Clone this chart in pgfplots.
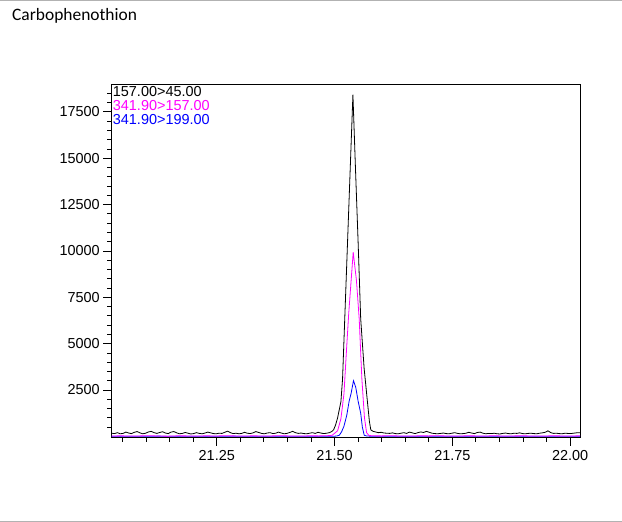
\documentclass[border=0pt]{standalone}
\usepackage{pgfplots}
\pgfplotsset{compat=1.18}
\usepackage{fontspec}
\setmainfont{Liberation Sans}
\newfontfamily\titlefont{Carlito}
\definecolor{mag}{RGB}{255,0,255}
\definecolor{blu}{RGB}{0,0,255}
\begin{document}
\begin{tikzpicture}
\path[use as bounding box] (0,0) rectangle (622bp,522bp);
\draw[color=black!30, line width=1.2bp] (0,521.2bp) -- (622bp,521.2bp);
\draw[color=black!30, line width=1.2bp] (0,0.8bp) -- (622bp,0.8bp);
\node[anchor=base west, inner sep=0] at (12bp,501.5bp) {\titlefont\fontsize{17.5}{20}\selectfont Carbophenothion};
\begin{axis}[
 at={(111.7bp,84.7bp)}, anchor=south west, scale only axis,
 width=468.3bp, height=353.3bp,
 xmin=21.027, xmax=22.021, ymin=-50, ymax=19000,
 xtick={21.25,21.5,21.75,22}, ytick={2500,5000,...,17500},
 minor xtick={21.05,21.10,...,22.00}, minor ytick={500,1000,...,18500},
 tick align=outside, tick pos=left,
 major tick length=8.5bp, minor tick length=4.5bp,
 scaled ticks=false,
 xticklabel style={/pgf/number format/fixed, /pgf/number format/fixed zerofill, /pgf/number format/precision=2, yshift=-1.5bp},
 yticklabel style={/pgf/number format/fixed, /pgf/number format/1000 sep={}},
 /pgf/number format/assume math mode=true,
 tick label style={font=\fontsize{14.5}{17}\selectfont},
 axis line style={line width=0.8bp},
 every tick/.style={black, line width=0.8bp},
 every axis plot/.append style={line width=0.8bp},
]
% blue
\addplot[blu] coordinates {
(21.027,5) (21.047,12) (21.067,3) (21.087,10) (21.107,6) (21.127,14) (21.147,4) (21.167,9) (21.187,12) (21.207,5)
(21.227,10) (21.247,3) (21.267,8) (21.287,13) (21.307,6) (21.327,4) (21.347,11) (21.367,7) (21.387,3) (21.407,10)
(21.427,6) (21.447,12) (21.467,5) (21.487,9) (21.500,10)
(21.505,20) (21.510,60) (21.515,250) (21.520,550) (21.526,1150) (21.531,1900) (21.535,2300) (21.5402,3000)
(21.545,2650) (21.550,1900) (21.5555,1250) (21.559,500) (21.563,60) (21.568,20)
(21.580,8) (21.600,4) (21.620,11) (21.640,6) (21.660,3) (21.680,9) (21.700,12) (21.720,5) (21.740,8) (21.760,3)
(21.780,10) (21.800,6) (21.820,12) (21.840,4) (21.860,9) (21.880,5) (21.900,11) (21.920,7) (21.940,3) (21.960,10)
(21.980,6) (22.000,8) (22.021,5)
};
% magenta
\addplot[mag] coordinates {
(21.027,20) (21.047,30) (21.067,15) (21.087,25) (21.107,35) (21.127,20) (21.147,10) (21.167,30) (21.187,25) (21.207,15)
(21.227,30) (21.247,20) (21.267,35) (21.287,25) (21.307,15) (21.327,30) (21.347,20) (21.367,25) (21.387,35) (21.407,20)
(21.427,15) (21.447,30) (21.467,25) (21.487,40) (21.495,60)
(21.5065,300) (21.5135,950) (21.520,2300) (21.525,4500) (21.530,6600) (21.5396,9930)
(21.5465,8400) (21.5523,6350) (21.558,3100) (21.5635,1000) (21.568,200) (21.573,50)
(21.580,30) (21.600,25) (21.620,35) (21.640,20) (21.660,15) (21.680,30) (21.700,25) (21.720,35) (21.740,20) (21.760,15)
(21.780,30) (21.800,25) (21.820,20) (21.840,35) (21.860,15) (21.880,25) (21.900,30) (21.920,20) (21.940,15) (21.960,30)
(21.980,25) (22.000,20) (22.021,30)
};
% black
\addplot[black] coordinates {
(21.027,170) (21.033,150) (21.039,200) (21.045,140) (21.051,160) (21.057,230) (21.063,180) (21.069,150) (21.075,220)
(21.081,260) (21.087,190) (21.093,140) (21.099,170) (21.105,240) (21.111,270) (21.117,200) (21.123,160) (21.129,210)
(21.135,250) (21.141,180) (21.147,150) (21.153,230) (21.159,260) (21.165,190) (21.171,140) (21.177,160) (21.183,210)
(21.189,170) (21.195,130) (21.201,150) (21.207,200) (21.213,160) (21.219,140) (21.225,180) (21.231,230) (21.237,190)
(21.243,150) (21.249,140) (21.255,170) (21.261,160) (21.267,220) (21.273,280) (21.279,200) (21.285,150) (21.291,170)
(21.297,140) (21.303,160) (21.309,220) (21.315,170) (21.321,150) (21.327,190) (21.333,260) (21.339,210) (21.345,160)
(21.351,140) (21.357,180) (21.363,200) (21.369,150) (21.375,170) (21.381,230) (21.387,180) (21.393,140) (21.399,160)
(21.405,210) (21.411,270) (21.417,200) (21.423,160) (21.429,180) (21.435,150) (21.441,140) (21.447,170) (21.453,200)
(21.459,160) (21.465,220) (21.471,180) (21.477,150) (21.483,170) (21.489,200) (21.494,260) (21.4979,350)
(21.502,600) (21.5063,980) (21.5135,1870) (21.517,3100) (21.528,10770) (21.539,18430)
(21.5445,14380) (21.550,10490) (21.5555,6340) (21.5628,3660) (21.5698,1870) (21.574,800) (21.577,350) (21.582,270) (21.587,240)
(21.593,200) (21.599,220) (21.605,180) (21.611,170) (21.617,160) (21.623,190) (21.629,150) (21.635,140) (21.641,170)
(21.647,200) (21.653,160) (21.659,230) (21.665,190) (21.671,150) (21.677,200) (21.683,240) (21.689,210) (21.695,270)
(21.701,220) (21.707,170) (21.713,150) (21.719,140) (21.725,160) (21.731,180) (21.737,150) (21.743,140) (21.749,170)
(21.755,200) (21.761,160) (21.767,140) (21.773,150) (21.779,170) (21.785,220) (21.791,180) (21.797,150) (21.803,210)
(21.809,230) (21.815,170) (21.821,140) (21.827,160) (21.833,150) (21.839,170) (21.845,140) (21.851,130) (21.857,160)
(21.863,180) (21.869,150) (21.875,140) (21.881,170) (21.887,160) (21.893,190) (21.899,150) (21.905,140) (21.911,160)
(21.917,170) (21.923,150) (21.929,140) (21.935,170) (21.941,190) (21.947,220) (21.953,300) (21.959,200) (21.965,160)
(21.971,170) (21.977,150) (21.983,140) (21.989,170) (21.995,160) (22.001,150) (22.007,170) (22.013,190) (22.021,200)
};
\end{axis}
\node[anchor=base west, inner sep=0, font=\fontsize{14.5}{17}\selectfont] at (112.7bp,425.3bp) {157.00>45.00};
\node[anchor=base west, inner sep=0, font=\fontsize{14.5}{17}\selectfont, text=mag] at (112.7bp,411.3bp) {341.90>157.00};
\node[anchor=base west, inner sep=0, font=\fontsize{14.5}{17}\selectfont, text=blu] at (112.7bp,397.7bp) {341.90>199.00};
\end{tikzpicture}
\end{document}
